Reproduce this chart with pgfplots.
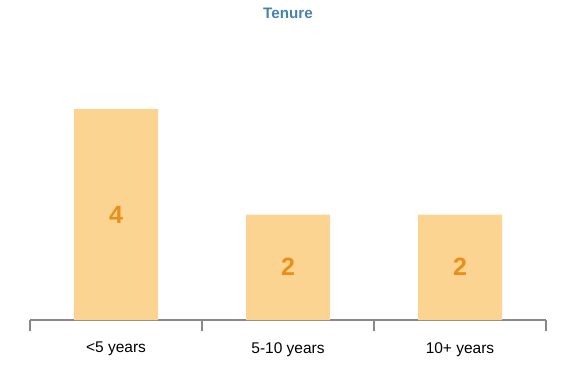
\documentclass[border=0pt]{standalone}
\usepackage{pgfplots}
\pgfplotsset{compat=1.18}
\usepackage{pgfplotstable}
\usepackage{fontspec}
\setmainfont{Liberation Sans}
\definecolor{barfill}{RGB}{252,212,146}
\definecolor{labcol}{RGB}{232,143,26}
\definecolor{titlecol}{RGB}{70,130,180}
\definecolor{axgray}{RGB}{136,136,136}
\pgfplotstableread{
x y
0 4
1 2
2 2
}\tenure
\begin{document}
\begin{tikzpicture}[x=1pt,y=1pt]
\path (0,0) rectangle (576,384);
\begin{axis}[
  at={(30pt,64pt)}, anchor=south west,
  scale only axis, width=516pt, height=211pt,
  xmin=-0.5, xmax=2.5, ymin=0, ymax=4,
  clip=false,
  /pgf/number format/assume math mode=true,
  axis y line=none,
  axis x line*=bottom,
  x axis line style={draw=axgray, line width=1.2pt, -},
  xtick={0,1,2},
  xticklabels={{<5 years},{5-10 years},{10+ years}},
  major x tick style={draw=none},
  minor xtick={-0.5,0.5,1.5,2.5},
  minor x tick style={draw=axgray, line width=1.2pt},
  minor tick length=11pt,
  tick align=outside,
  xticklabel style={font=\fontsize{15.5}{18}\selectfont, anchor=center, yshift=-25pt},
  title={Tenure},
  title style={at={(0.5,1)}, anchor=center, yshift=90pt, font=\fontsize{15.2}{18}\selectfont\bfseries, text=titlecol},
]
\addplot[ybar, bar width=84pt, fill=barfill, draw=none] table[x=x,y=y] {\tenure};
\addplot[draw=none, mark=none, nodes near coords, point meta=explicit,
  nodes near coords style={anchor=center, font=\fontsize{25}{30}\selectfont\bfseries, text=labcol}]
  table[x=x, y expr=\thisrow{y}/2, meta=y] {\tenure};
\end{axis}
\end{tikzpicture}
\end{document}
